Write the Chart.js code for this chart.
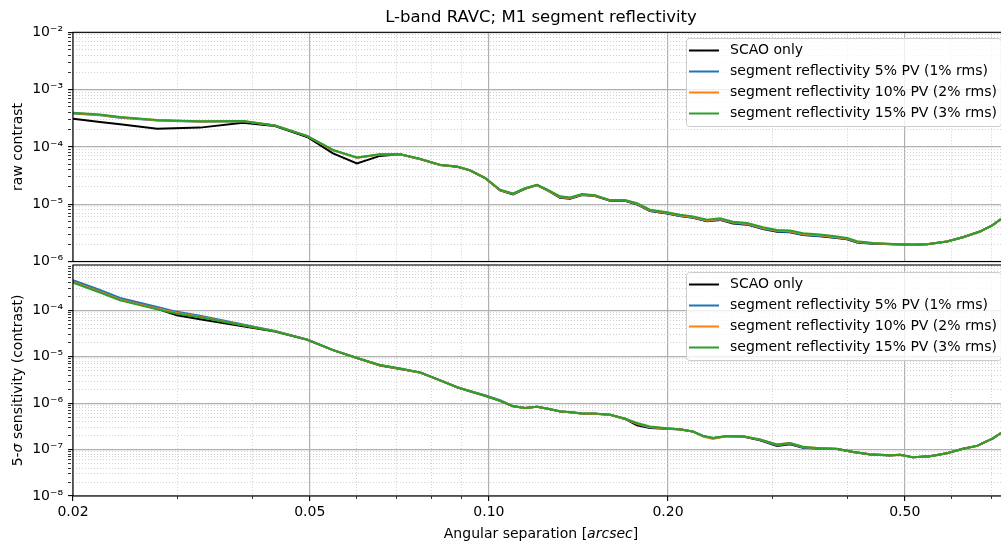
<!DOCTYPE html>
<html>
<head>
<meta charset="utf-8">
<script src="https://cdn.jsdelivr.net/npm/chart.js@4.4.0/dist/chart.umd.min.js"></script>
<style>
  html, body { margin: 0; padding: 0; background: #fff; overflow: hidden; }
  #wrap { position: relative; width: 1001px; height: 541px; overflow: hidden; }
  #top { position: absolute; left: 0; top: 0; }
  #bot { position: absolute; left: 0; top: 263px; }
</style>
</head>
<body>
<div id="wrap">
  <canvas id="top" width="1010" height="280"></canvas>
  <canvas id="bot" width="1010" height="278"></canvas>
</div>
<script>
Chart.defaults.font.family = "'DejaVu Sans', sans-serif";
Chart.defaults.font.size = 14;
Chart.defaults.color = '#000';
Chart.defaults.animation = false;

const seriesNames = [
  'SCAO only',
  'segment reflectivity 5% PV (1% rms)',
  'segment reflectivity 10% PV (2% rms)',
  'segment reflectivity 15% PV (3% rms)'
];
const seriesColors = ['#000000', '#1f77b4', '#ff7f0e', '#2ca02c'];

// raw contrast panel
const sepRaw = [0.0200, 0.0222, 0.0240, 0.0277, 0.0327, 0.0386, 0.0437, 0.0495, 0.0547, 0.0600,
  0.0656, 0.0709, 0.0766, 0.0828, 0.0884, 0.0929, 0.0985, 0.1044, 0.1098, 0.1150,
  0.1205, 0.1257, 0.1317, 0.1369, 0.1434, 0.1508, 0.1598, 0.1693, 0.1774, 0.1865,
  0.1992, 0.2095, 0.2203, 0.2326, 0.2446, 0.2572, 0.2716, 0.2888, 0.3050, 0.3207,
  0.3373, 0.3602, 0.3846, 0.3998, 0.4157, 0.4422, 0.4778, 0.5162, 0.5450, 0.5887,
  0.6262, 0.6690, 0.7035, 0.7256];
const rawScao = [3.11e-4, 2.73e-4, 2.48e-4, 2.08e-4, 2.17e-4, 2.65e-4, 2.32e-4, 1.49e-4, 7.71e-5, 5.16e-5,
  6.97e-5, 7.45e-5, 6.14e-5, 4.83e-5, 4.51e-5, 3.90e-5, 2.86e-5, 1.74e-5, 1.48e-5, 1.86e-5,
  2.15e-5, 1.72e-5, 1.30e-5, 1.24e-5, 1.45e-5, 1.39e-5, 1.15e-5, 1.15e-5, 9.90e-6, 7.60e-6,
  6.90e-6, 6.20e-6, 5.80e-6, 5.02e-6, 5.32e-6, 4.62e-6, 4.40e-6, 3.68e-6, 3.32e-6, 3.23e-6,
  2.90e-6, 2.76e-6, 2.56e-6, 2.44e-6, 2.15e-6, 2.05e-6, 2.00e-6, 1.96e-6, 2.00e-6, 2.23e-6,
  2.65e-6, 3.33e-6, 4.35e-6, 5.53e-6];
const raw5 = [3.83e-4, 3.55e-4, 3.22e-4, 2.88e-4, 2.75e-4, 2.80e-4, 2.36e-4, 1.54e-4, 8.75e-5, 6.45e-5,
  7.36e-5, 7.45e-5, 6.15e-5, 4.84e-5, 4.52e-5, 3.91e-5, 2.87e-5, 1.76e-5, 1.50e-5, 1.87e-5,
  2.16e-5, 1.73e-5, 1.32e-5, 1.26e-5, 1.46e-5, 1.40e-5, 1.16e-5, 1.16e-5, 1.00e-5, 7.70e-6,
  6.95e-6, 6.25e-6, 5.85e-6, 5.08e-6, 5.38e-6, 4.68e-6, 4.45e-6, 3.73e-6, 3.36e-6, 3.27e-6,
  2.93e-6, 2.80e-6, 2.59e-6, 2.47e-6, 2.17e-6, 2.06e-6, 2.01e-6, 1.97e-6, 2.00e-6, 2.23e-6,
  2.65e-6, 3.33e-6, 4.35e-6, 5.53e-6];
const raw10 = [3.90e-4, 3.62e-4, 3.28e-4, 2.92e-4, 2.78e-4, 2.82e-4, 2.36e-4, 1.54e-4, 8.80e-5, 6.48e-5,
  7.38e-5, 7.46e-5, 6.16e-5, 4.85e-5, 4.53e-5, 3.92e-5, 2.88e-5, 1.77e-5, 1.52e-5, 1.88e-5,
  2.17e-5, 1.75e-5, 1.34e-5, 1.28e-5, 1.48e-5, 1.41e-5, 1.17e-5, 1.17e-5, 1.02e-5, 7.85e-6,
  7.10e-6, 6.40e-6, 5.98e-6, 5.22e-6, 5.52e-6, 4.82e-6, 4.58e-6, 3.85e-6, 3.47e-6, 3.37e-6,
  3.02e-6, 2.88e-6, 2.66e-6, 2.53e-6, 2.21e-6, 2.08e-6, 2.02e-6, 1.97e-6, 2.00e-6, 2.23e-6,
  2.65e-6, 3.33e-6, 4.35e-6, 5.53e-6];
const raw15 = [3.95e-4, 3.67e-4, 3.32e-4, 2.95e-4, 2.80e-4, 2.83e-4, 2.37e-4, 1.55e-4, 8.87e-5, 6.52e-5,
  7.41e-5, 7.47e-5, 6.18e-5, 4.86e-5, 4.54e-5, 3.93e-5, 2.89e-5, 1.79e-5, 1.54e-5, 1.90e-5,
  2.18e-5, 1.77e-5, 1.37e-5, 1.31e-5, 1.50e-5, 1.43e-5, 1.18e-5, 1.18e-5, 1.04e-5, 8.02e-6,
  7.26e-6, 6.56e-6, 6.13e-6, 5.37e-6, 5.66e-6, 4.96e-6, 4.71e-6, 3.95e-6, 3.56e-6, 3.46e-6,
  3.10e-6, 2.95e-6, 2.72e-6, 2.58e-6, 2.25e-6, 2.11e-6, 2.03e-6, 1.98e-6, 2.00e-6, 2.23e-6,
  2.65e-6, 3.33e-6, 4.35e-6, 5.53e-6];

// 5-sigma sensitivity panel
const sepSens = [0.0200, 0.0222, 0.0240, 0.0277, 0.0299, 0.0327, 0.0386, 0.0437, 0.0495, 0.0547,
  0.0600, 0.0656, 0.0709, 0.0766, 0.0828, 0.0884, 0.0929, 0.0985, 0.1044, 0.1098,
  0.1150, 0.1205, 0.1257, 0.1317, 0.1369, 0.1434, 0.1508, 0.1598, 0.1693, 0.1774,
  0.1865, 0.1992, 0.2095, 0.2203, 0.2291, 0.2380, 0.2514, 0.2674, 0.2856, 0.3050,
  0.3207, 0.3373, 0.3602, 0.3846, 0.4092, 0.4370, 0.4722, 0.4908, 0.5162, 0.5512,
  0.5887, 0.6262, 0.6612, 0.6873, 0.7035, 0.7256];
const sensScao = [4.22e-4, 2.58e-4, 1.73e-4, 1.08e-4, 7.82e-5, 6.42e-5, 4.55e-5, 3.50e-5, 2.33e-5, 1.39e-5,
  9.40e-6, 6.50e-6, 5.45e-6, 4.58e-6, 3.10e-6, 2.20e-6, 1.81e-6, 1.45e-6, 1.13e-6, 8.55e-7,
  7.85e-7, 8.35e-7, 7.55e-7, 6.62e-7, 6.38e-7, 6.00e-7, 5.94e-7, 5.62e-7, 4.58e-7, 3.35e-7,
  2.92e-7, 2.80e-7, 2.72e-7, 2.44e-7, 1.95e-7, 1.76e-7, 1.95e-7, 1.92e-7, 1.58e-7, 1.20e-7,
  1.30e-7, 1.09e-7, 1.05e-7, 1.03e-7, 8.90e-8, 7.88e-8, 7.50e-8, 7.70e-8, 6.80e-8, 7.18e-8,
  8.32e-8, 1.04e-7, 1.20e-7, 1.52e-7, 1.74e-7, 2.28e-7];
const sens5 = [4.45e-4, 2.74e-4, 1.85e-4, 1.19e-4, 9.29e-5, 7.63e-5, 4.95e-5, 3.62e-5, 2.36e-5, 1.40e-5,
  9.45e-6, 6.62e-6, 5.58e-6, 4.60e-6, 3.12e-6, 2.22e-6, 1.83e-6, 1.48e-6, 1.16e-6, 8.65e-7,
  7.90e-7, 8.40e-7, 7.60e-7, 6.66e-7, 6.40e-7, 6.00e-7, 5.95e-7, 5.65e-7, 4.62e-7, 3.55e-7,
  2.98e-7, 2.84e-7, 2.73e-7, 2.45e-7, 1.96e-7, 1.77e-7, 1.96e-7, 1.93e-7, 1.60e-7, 1.22e-7,
  1.33e-7, 1.10e-7, 1.06e-7, 1.03e-7, 8.92e-8, 7.90e-8, 7.52e-8, 7.70e-8, 6.80e-8, 7.18e-8,
  8.32e-8, 1.04e-7, 1.20e-7, 1.52e-7, 1.74e-7, 2.28e-7];
const sens10 = [4.10e-4, 2.52e-4, 1.70e-4, 1.09e-4, 8.75e-5, 7.25e-5, 4.80e-5, 3.57e-5, 2.34e-5, 1.39e-5,
  9.40e-6, 6.55e-6, 5.50e-6, 4.55e-6, 3.10e-6, 2.20e-6, 1.81e-6, 1.45e-6, 1.13e-6, 8.60e-7,
  7.88e-7, 8.40e-7, 7.60e-7, 6.66e-7, 6.40e-7, 6.00e-7, 5.95e-7, 5.65e-7, 4.60e-7, 3.65e-7,
  3.05e-7, 2.86e-7, 2.74e-7, 2.46e-7, 1.90e-7, 1.70e-7, 1.95e-7, 1.94e-7, 1.65e-7, 1.28e-7,
  1.38e-7, 1.14e-7, 1.07e-7, 1.04e-7, 8.90e-8, 7.91e-8, 7.53e-8, 7.60e-8, 6.82e-8, 7.18e-8,
  8.32e-8, 1.04e-7, 1.20e-7, 1.52e-7, 1.74e-7, 2.28e-7];
const sens15 = [3.97e-4, 2.43e-4, 1.64e-4, 1.05e-4, 8.50e-5, 7.08e-5, 4.78e-5, 3.56e-5, 2.34e-5, 1.39e-5,
  9.40e-6, 6.66e-6, 5.61e-6, 4.61e-6, 3.10e-6, 2.20e-6, 1.81e-6, 1.45e-6, 1.13e-6, 8.63e-7,
  7.89e-7, 8.41e-7, 7.62e-7, 6.68e-7, 6.42e-7, 6.02e-7, 5.96e-7, 5.67e-7, 4.66e-7, 3.73e-7,
  3.14e-7, 2.88e-7, 2.74e-7, 2.46e-7, 1.97e-7, 1.78e-7, 1.97e-7, 1.94e-7, 1.66e-7, 1.29e-7,
  1.39e-7, 1.15e-7, 1.07e-7, 1.04e-7, 8.95e-8, 7.91e-8, 7.53e-8, 7.72e-8, 6.82e-8, 7.18e-8,
  8.32e-8, 1.04e-7, 1.20e-7, 1.52e-7, 1.74e-7, 2.28e-7];

// ticks
const sepMajorTicks = [0.02, 0.05, 0.1, 0.2, 0.5];
const sepMajorLabels = ['0.02', '0.05', '0.10', '0.20', '0.50'];
const sepMinorTicks = [0.03, 0.04, 0.06, 0.07, 0.08, 0.09, 0.3, 0.4, 0.6, 0.7];
const rawDecades = [1e-6, 1e-5, 1e-4, 1e-3, 1e-2];
const rawDecadeLabels = ['10⁻⁶', '10⁻⁵', '10⁻⁴', '10⁻³', '10⁻²'];
const sensDecades = [1e-8, 1e-7, 1e-6, 1e-5, 1e-4];
const sensDecadeLabels = ['10⁻⁸', '10⁻⁷', '10⁻⁶', '10⁻⁵', '10⁻⁴'];

const SEP_MIN = 0.02, SEP_MAX = 0.7484;

function logTicks(decades, labels, min, max) {
  const out = [];
  decades.forEach((d, i) => {
    for (let m = 1; m <= 9; m++) {
      const v = m * d;
      if (v < min * 0.999 || v > max * 1.001) continue;
      out.push({value: v, isMajor: m === 1, text: m === 1 ? labels[i] : ''});
    }
  });
  return out;
}
function sepTicks() {
  const out = sepMajorTicks.map((v, i) => ({value: v, isMajor: true, text: sepMajorLabels[i]}));
  sepMinorTicks.forEach(v => out.push({value: v, isMajor: false, text: ''}));
  return out.sort((a, b) => a.value - b.value);
}

const isMaj = c => c.tick && c.tick.isMajor;
function gridOpts(drawTicks) {
  return {
    color: c => isMaj(c) ? '#b0b0b0' : '#c6c6c6',
    lineWidth: c => isMaj(c) ? 1.2 : 0.8,
    drawTicks: drawTicks,
    tickColor: '#000',
    tickLength: 5,
    tickWidth: c => isMaj(c) ? 1.1 : 0.8,
    tickBorderDash: c => isMaj(c) ? [] : [3, 10]
  };
}
const borderOpts = {display: false, dash: c => isMaj(c) ? [] : [1, 2]};

function makeSets(xs, ys) {
  return ys.map((arr, i) => ({
    label: seriesNames[i],
    data: arr.map((v, j) => ({x: xs[j], y: v})),
    borderColor: seriesColors[i],
    backgroundColor: seriesColors[i],
    borderWidth: 2,
    pointRadius: 0,
    tension: 0,
    order: ys.length - i
  }));
}

const framePlugin = {
  id: 'frame',
  afterDatasetsDraw(chart) {
    const {ctx, chartArea: a} = chart;
    ctx.save();
    ctx.strokeStyle = '#000';
    ctx.lineWidth = 1.1;
    ctx.strokeRect(a.left, a.top, a.right - a.left, a.bottom - a.top);
    ctx.restore();
  }
};

const insideLegend = {
  id: 'insideLegend',
  afterDatasetsDraw(chart, args, opts) {
    const ctx = chart.ctx;
    const sets = chart.data.datasets;
    ctx.save();
    ctx.font = "14px 'DejaVu Sans'";
    const textW = Math.max(...sets.map(d => ctx.measureText(d.label).width));
    const handle = 30, gap = 11, rowH = 21;
    const w = 3 + handle + gap + textW + 4;
    const h = rowH * sets.length + 4;
    const x = opts.left, y = opts.top;
    ctx.beginPath();
    ctx.roundRect(x + 0.5, y + 0.5, w, h, 3);
    ctx.fillStyle = 'rgba(255,255,255,0.8)';
    ctx.fill();
    ctx.strokeStyle = '#cccccc';
    ctx.lineWidth = 1;
    ctx.stroke();
    sets.forEach((d, i) => {
      const cy = y + 12.5 + i * rowH;
      ctx.strokeStyle = d.borderColor;
      ctx.lineWidth = 2;
      ctx.beginPath();
      ctx.moveTo(x + 3, cy);
      ctx.lineTo(x + 3 + handle, cy);
      ctx.stroke();
      ctx.fillStyle = '#000';
      ctx.textBaseline = 'middle';
      ctx.textAlign = 'left';
      ctx.fillText(d.label, x + 3 + handle + gap, cy);
    });
    ctx.restore();
  }
};

function drawRich(ctx, parts, x, y, rot) {
  ctx.save();
  ctx.translate(x, y);
  ctx.rotate(rot);
  ctx.textBaseline = 'middle';
  ctx.textAlign = 'left';
  ctx.fillStyle = '#000';
  let total = 0;
  parts.forEach(p => {
    ctx.font = (p.it ? 'italic ' : '') + "14px 'DejaVu Sans'";
    p.w = ctx.measureText(p.t).width;
    total += p.w;
  });
  let cx = -total / 2;
  parts.forEach(p => {
    ctx.font = (p.it ? 'italic ' : '') + "14px 'DejaVu Sans'";
    ctx.fillText(p.t, cx, 0);
    cx += p.w;
  });
  ctx.restore();
}

const richTitles = {
  id: 'richTitles',
  afterDraw(chart) {
    const {ctx, chartArea: a} = chart;
    drawRich(ctx, [{t: 'Angular separation ['}, {t: 'arcsec', it: true}, {t: ']'}],
      (a.left + a.right) / 2, a.bottom + 38.5, 0);
    drawRich(ctx, [{t: '5-'}, {t: 'σ', it: true}, {t: ' sensitivity (contrast)'}],
      18.4, (a.top + a.bottom) / 2, -Math.PI / 2);
  }
};

function xScale(showTicks) {
  return {
    type: 'logarithmic',
    min: SEP_MIN,
    max: SEP_MAX,
    grid: gridOpts(showTicks),
    border: borderOpts,
    afterBuildTicks: s => { s.ticks = sepTicks(); },
    afterFit: s => {
      s.height = showTicks ? 45 : 0;
      s.paddingLeft = 0;
      s.paddingRight = 0;
    },
    ticks: {
      display: showTicks,
      autoSkip: false,
      maxRotation: 0,
      minRotation: 0,
      padding: 3,
      color: '#000',
      font: {size: 14},
      callback: (v, i, t) => t[i].text
    }
  };
}
function yScale(min, max, decades, labels, title) {
  return {
    type: 'logarithmic',
    min: min,
    max: max,
    grid: gridOpts(true),
    border: borderOpts,
    afterBuildTicks: s => { s.ticks = logTicks(decades, labels, min, max); },
    afterFit: s => {
      s.width = 73;
      s.paddingTop = 0;
      s.paddingBottom = 0;
    },
    title: title ? {display: true, text: title, font: {size: 14}, color: '#000', padding: {top: 10, bottom: 0}} : {display: false},
    ticks: {
      autoSkip: false,
      padding: 5,
      color: '#000',
      font: {size: 14},
      callback: (v, i, t) => t[i].text
    }
  };
}

new Chart('top', {
  type: 'line',
  data: {datasets: makeSets(sepRaw, [rawScao, raw5, raw10, raw15])},
  options: {
    responsive: false,
    layout: {padding: {left: 0, right: 1, top: 0, bottom: 18.5}},
    scales: {
      x: xScale(false),
      y: yScale(1e-6, 1e-2, rawDecades, rawDecadeLabels, 'raw contrast')
    },
    plugins: {
      legend: {display: false},
      tooltip: {enabled: false},
      title: {
        display: true,
        fullSize: false,
        text: 'L-band RAVC; M1 segment reflectivity',
        color: '#000',
        font: {size: 16.5, weight: 'normal'},
        padding: {top: 7.5, bottom: 5}
      },
      insideLegend: {left: 686, top: 38}
    }
  },
  plugins: [framePlugin, insideLegend]
});

new Chart('bot', {
  type: 'line',
  data: {datasets: makeSets(sepSens, [sensScao, sens5, sens10, sens15])},
  options: {
    responsive: false,
    layout: {padding: {left: 0, right: 1, top: 2, bottom: 0}},
    scales: {
      x: xScale(true),
      y: yScale(1e-8, 9.5e-4, sensDecades, sensDecadeLabels, null)
    },
    plugins: {
      legend: {display: false},
      tooltip: {enabled: false},
      title: {display: false},
      insideLegend: {left: 686, top: 9}
    }
  },
  plugins: [framePlugin, insideLegend, richTitles]
});
</script>
</body>
</html>
